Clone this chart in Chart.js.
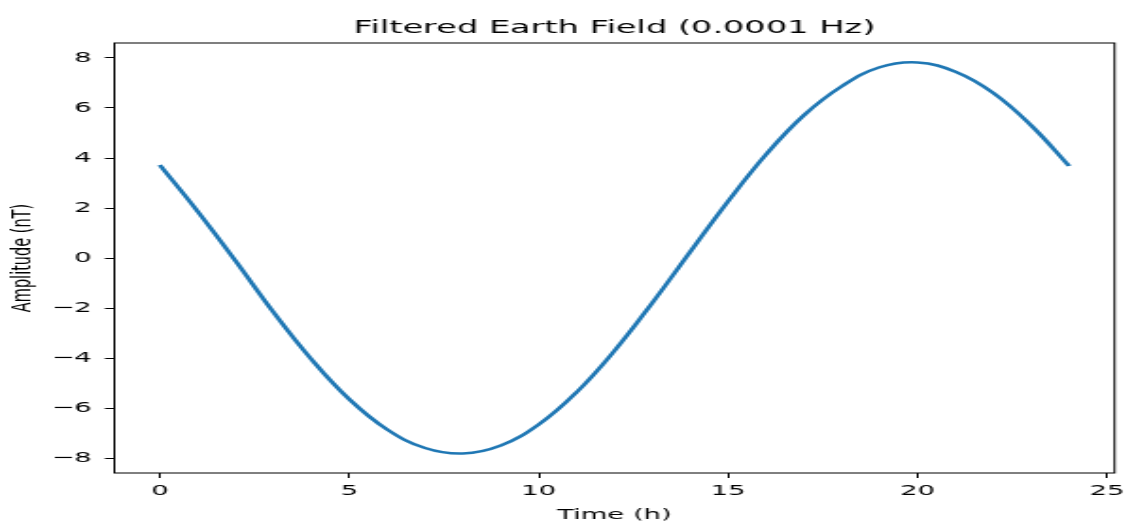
<!DOCTYPE html>
<html>
<head>
<meta charset="utf-8">
<script src="https://cdn.jsdelivr.net/npm/chart.js@4/dist/chart.umd.min.js"></script>
<style>
  html, body { margin: 0; padding: 0; background: #fff; overflow: hidden; }
  #fieldChart { display: block; transform: scaleX(1.89); transform-origin: 0 0; }
</style>
</head>
<body>
<canvas id="fieldChart" width="600" height="524"></canvas>
<script>
// values, one per hour
const hours = [0, 1, 2, 3, 4, 5, 6, 7, 8, 9, 10, 11, 12, 13, 14, 15, 16, 17, 18, 19, 20, 21, 22, 23, 24];
const amplitude = [3.72, 1.86, -0.12, -2.17, -4.05, -5.65, -6.86, -7.60, -7.82, -7.50, -6.66, -5.37,
  -3.71, -1.79, 0.25, 2.27, 4.14, 5.71, 6.87, 7.63, 7.82, 7.45, 6.60, 5.30, 3.68];
const xTicks = [0, 5, 10, 15, 20, 25];
const yTicks = [-8, -6, -4, -2, 0, 2, 4, 6, 8];

Chart.defaults.font.family = "'DejaVu Sans', sans-serif";
Chart.defaults.color = '#000';

// matplotlib style box round the axes
const frame = {
  id: 'frame',
  afterDraw(chart) {
    const { ctx, chartArea: a } = chart;
    ctx.save();
    ctx.strokeStyle = '#000';
    ctx.lineWidth = 1;
    ctx.strokeRect(a.left, a.top, a.right - a.left, a.bottom - a.top);
    ctx.restore();
  }
};

const ctx = document.getElementById('fieldChart');

new Chart(ctx, {
  type: 'line',
  data: {
    datasets: [{
      data: hours.map((h, i) => ({ x: h, y: amplitude[i] })),
      borderColor: '#1f77b4',
      borderWidth: 2.6,
      pointRadius: 0,
      tension: 0.4,
      fill: false
    }]
  },
  options: {
    responsive: false,
    animation: false,
    devicePixelRatio: 1,
    layout: { padding: { left: 0, right: 7.4, top: 0, bottom: 0 } },
    plugins: {
      legend: { display: false },
      tooltip: { enabled: false },
      title: {
        display: true,
        fullSize: false,
        text: 'Filtered Earth Field (0.0001 Hz)',
        font: { size: 17.8, weight: 'normal' },
        padding: { top: 18, bottom: 3.64 }
      }
    },
    scales: {
      x: {
        type: 'linear',
        min: -1.2,
        max: 25.2,
        afterFit: s => { s.height = 51; },
        afterBuildTicks: s => { s.ticks = xTicks.map(v => ({ value: v })); },
        ticks: { stepSize: 5, includeBounds: false, padding: 5, font: { size: 14.5 } },
        grid: { drawOnChartArea: false, drawTicks: true, tickLength: 5, color: '#000' },
        border: { display: false },
        title: { display: true, text: 'Time (h)', font: { size: 14.5 }, padding: { top: 0, bottom: 0 } }
      },
      y: {
        min: -8.6,
        max: 8.6,
        afterFit: s => { s.width = 60.5; },
        afterBuildTicks: s => { s.ticks = yTicks.map(v => ({ value: v })); },
        ticks: {
          stepSize: 2,
          includeBounds: false,
          padding: 7,
          font: { size: 14.5 },
          callback: v => String(v).replace('-', '\u2212')
        },
        grid: { drawOnChartArea: false, drawTicks: true, tickLength: 5, color: '#000' },
        border: { display: false },
        title: { display: true, text: 'Amplitude (nT)', font: { size: 14.5 }, padding: { top: 3.6, bottom: 0 } }
      }
    }
  },
  plugins: [frame]
});
</script>
</body>
</html>
